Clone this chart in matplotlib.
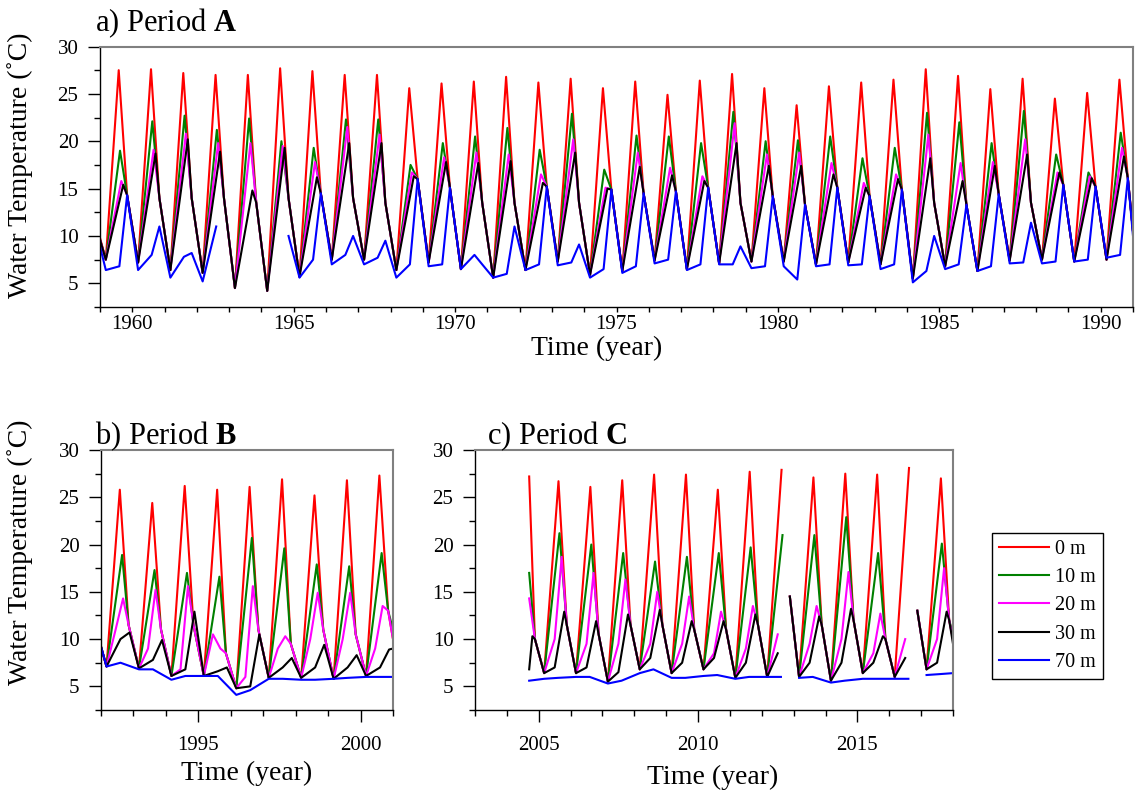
import numpy as np
import matplotlib
matplotlib.use("Agg")
import matplotlib.pyplot as plt
from matplotlib.ticker import MultipleLocator

plt.rcParams['font.family'] = ['Liberation Serif', 'DejaVu Serif']
plt.rcParams['mathtext.fontset'] = 'custom'
plt.rcParams['mathtext.rm'] = 'Liberation Serif'
plt.rcParams['mathtext.bf'] = 'Liberation Serif:bold'

nan = np.nan

# ---- period A (1959-1990), values read per year ----
years_a = list(range(1959, 1991))
trough_a = [7.5, 7.2, 6.4, 6.1, 4.5, 4.2, 5.7, 7.5, 7.5, 6.4, 7.2, 6.5, 5.6, 6.4, 7.3, 5.9,
            6.3, 7.4, 6.5, 7.1, 7.3, 7.3, 7.0, 7.2, 7.0, 5.5, 6.8, 6.3, 7.4, 7.5, 7.3, 7.5]
red_a = [27.5, 27.6, 27.2, 27.0, 27.0, 27.7, 27.4, 27.0, 27.0, 25.6, 26.1, 26.3, 26.8, 26.2, 26.6, 25.6,
         26.3, 24.9, 26.4, 27.1, 25.6, 23.8, 25.8, 26.2, 26.5, 27.6, 26.9, 25.5, 26.6, 24.5, 25.1, 26.5]
green_a = [19.0, 22.1, 22.7, 21.2, 22.4, 20.0, 19.3, 22.3, 22.3, 17.5, 19.8, 20.5, 21.4, 19.1, 22.9, 17.0,
           20.6, 20.5, 19.8, 23.1, 20.0, 20.1, 20.5, 18.2, 19.3, 23.0, 22.0, 19.8, 23.2, 18.6, 16.7, 20.9]
mag_a = [15.8, 19.1, 20.8, 19.8, 19.8, 19.5, 17.8, 21.5, 20.7, 16.7, 18.3, 18.8, 18.6, 16.5, 20.2, 15.1,
         18.8, 17.2, 16.3, 21.9, 18.6, 18.8, 17.7, 15.6, 16.5, 20.7, 17.7, 17.8, 20.2, 16.7, 16.3, 19.3]
black_a = [15.4, 18.7, 20.2, 18.9, 14.8, 19.3, 16.2, 19.8, 19.8, 16.3, 17.8, 17.7, 17.9, 15.6, 18.8, 15.0,
           17.3, 16.4, 15.8, 19.8, 17.4, 17.4, 16.5, 15.1, 16.0, 18.2, 15.8, 17.4, 18.6, 16.7, 16.1, 18.4]
fall_a = [14.3, 14.0, 14.0, 14.0, 13.5, 14.0, 14.5, 14.0, 13.5, 16.0, 15.1, 13.5, 13.5, 15.2, 13.5, 14.9,
          14.5, 14.7, 15.1, 13.5, 14.2, 13.3, 15.1, 14.2, 14.9, 13.5, 13.3, 14.4, 13.5, 15.4, 15.2, 16.1]
blue_trough_a = [6.4, 6.4, 5.6, 5.2, nan, nan, 5.6, 7.0, 7.0, 5.6, 6.8, 6.5, 5.6, 6.4, 6.9, 5.6,
                 6.1, 7.1, 6.4, 7.0, 6.6, 6.8, 6.8, 6.9, 6.5, 5.1, 6.5, 6.3, 7.1, 7.1, 7.3, 7.7]
blue_summer_a = [6.8, 8.0, 7.8, 11.0, nan, nan, 7.5, 8.0, 7.7, 7.0, 7.0, 8.0, 6.0, 7.0, 7.2, 6.5,
                 6.8, 7.5, 7.0, 7.0, 6.8, 5.4, 7.0, 7.0, 7.0, 6.3, 7.0, 6.8, 7.2, 7.3, 7.5, 8.0]
blue_fall_a = [14.3, 11.0, 8.2, 8.5, nan, 10.0, 14.5, 10.0, 9.5, 16.0, 15.1, 7.0, 11.0, 15.2, 9.1, 14.9,
               14.5, 14.7, 15.1, 8.9, 14.2, 13.3, 15.1, 14.2, 14.9, 10.0, 13.3, 14.4, 11.4, 15.4, 15.2, 16.1]
start_a = [9.8, 9.6, 9.6, 9.6, 8.9]    # 0, 10, 20, 30, 70 m at 1959.0
end_a = [10.5, 10.5, 10.5, 10.5, 10.0]  # at 1991.0
gaps_blue_a = [(1962.70, 1964.75)]

# ---- period B (1992-2000) ----
years_b = list(range(1992, 2001))
trough_b = [7.1, 6.9, 6.1, 6.1, 4.8, 5.9, 5.9, 5.8, 6.1]
red_b = [25.8, 24.4, 26.2, 25.8, 26.1, 26.9, 25.2, 26.8, 27.3]
green_b = [18.9, 17.3, 17.0, 16.6, 20.7, 19.6, 17.9, 17.7, 19.1]
mag_summer_b = [11.0, 9.0, 6.8, 10.5, 6.0, 9.0, 10.0, 10.0, 9.0]
mag_b = [14.3, 15.2, 15.6, 9.0, 15.6, 10.3, 14.9, 14.9, 13.5]
black_summer_b = [10.0, 7.8, 6.8, 6.6, 5.0, 7.0, 7.0, 7.0, 7.0]
black_b = [10.7, 9.9, 12.9, 7.0, 10.5, 8.0, 9.4, 8.3, 8.9]
fall_b = [11.5, 11.0, 11.5, 8.5, 11.0, 9.5, 11.0, 10.5, 13.0]
blue_trough_b = [7.1, 6.8, 5.7, 6.1, 4.1, 5.8, 5.7, 5.8, 6.0]
blue_summer_b = [7.5, 6.8, 6.1, 6.1, 4.6, 5.8, 5.7, 5.9, 6.0]
start_b = [9.2, 9.2, 9.2, 9.2, 9.2]
end_b = [10.0, 11.0, 10.0, 9.0, 6.0]

# ---- period C (2004-2017) ----
years_c = list(range(2004, 2018))
trough_c = [nan, 6.4, 6.4, 5.5, 6.8, 6.4, 6.8, 5.9, 6.0, 6.0, 5.6, 6.4, 6.0, 6.8]
red_c = [nan, 26.7, 26.1, 26.8, 27.4, 27.4, 25.8, 27.7, 27.9, 27.1, 27.5, 27.4, 28.1, 27.0]
green_c = [nan, 21.2, 20.0, 19.1, 18.2, 18.7, 19.1, 19.7, 21.0, 21.0, 22.9, 19.1, 18.6, 20.1]
mag_summer_c = [nan, 10.0, 9.5, 9.5, 9.5, 9.5, 8.5, 9.0, 10.5, 9.5, 10.0, 8.5, 10.0, 10.0]
mag_c = [nan, 18.7, 17.0, 16.3, 15.0, 14.5, 12.9, 13.5, 18.4, 13.5, 17.1, 12.7, 15.0, 17.5]
black_summer_c = [nan, 7.0, 7.0, 6.5, 8.0, 7.5, 8.0, 7.5, 8.5, 7.5, 7.5, 7.5, 8.0, 7.5]
black_c = [10.3, 12.9, 11.9, 12.6, 13.1, 11.9, 11.9, 12.6, 14.7, 12.4, 13.2, 10.3, nan, 12.9]
fall_c = [10.0, 11.5, 10.5, 11.5, 11.5, 11.0, 11.0, 11.5, 14.5, 11.5, 12.0, 10.0, 13.0, 12.0]
blue_trough_c = [nan, 5.8, 6.0, 5.3, 6.4, 5.9, 6.1, 5.8, 6.0, 5.9, 5.4, 5.8, 5.8, 6.2]
blue_summer_c = [nan, 5.9, 6.0, 5.6, 6.8, 5.9, 6.2, 6.0, 6.0, 6.0, 5.6, 5.8, 5.8, 6.3]
start_c = [27.2, 17.0, 14.3, 6.8, 5.6]   # at 2004.70
end_c = [10.0, 10.5, 10.0, 9.5, 6.4]
gaps_c = [(2012.70, 2012.86), (2016.64, 2016.87)]

depths = ["0 m", "10 m", "20 m", "30 m", "70 m"]
colors = ["#ff0000", "#008000", "#ff00ff", "#000000", "#0000ff"]


def series(years, phases, columns, start=None, end=None, gaps=()):
	t, v = [], []
	if start is not None:
		t.append(start[0]); v.append(start[1])
	for i, y in enumerate(years):
		for p, col in zip(phases, columns):
			if not np.isnan(col[i]):
				t.append(y + p); v.append(col[i])
	if end is not None:
		t.append(end[0]); v.append(end[1])
	t = np.array(t); v = np.array(v)
	for g0, g1 in gaps:
		keep = (t < g0) | (t > g1)
		t, v = t[keep], v[keep]
		k = np.searchsorted(t, g0)
		t = np.insert(t, k, g0); v = np.insert(v, k, np.nan)
	return t, v


def style_axes(ax, xlim, xtick_len, xpad):
	ax.set_xlim(*xlim)
	ax.set_ylim(2.5, 30)
	ax.xaxis.set_major_locator(MultipleLocator(5))
	ax.xaxis.set_minor_locator(MultipleLocator(1))
	ax.yaxis.set_major_locator(MultipleLocator(5))
	ax.yaxis.set_minor_locator(MultipleLocator(2.5))
	ax.tick_params(which='both', direction='out', top=False, right=False,
	               labelsize=15, width=1, color='black')
	ax.tick_params(axis='y', which='major', length=8.5, pad=7)
	ax.tick_params(axis='y', which='minor', length=4.3)
	ax.tick_params(axis='x', which='major', length=xtick_len[0], pad=xpad)
	ax.tick_params(axis='x', which='minor', length=xtick_len[1])
	for s in ['top', 'right']:
		ax.spines[s].set_color('#808080')
		ax.spines[s].set_linewidth(1.5)
	for s in ['left', 'bottom']:
		ax.spines[s].set_color('black')
		ax.spines[s].set_linewidth(1.0)


W, H = 1142, 798
fig = plt.figure(figsize=(W / 100, H / 100), dpi=100)
ax_a = fig.add_axes([100 / W, 1 - 307 / H, 1033 / W, 260.5 / H])
ax_b = fig.add_axes([101 / W, 1 - 710 / H, 292 / W, 260 / H])
ax_c = fig.add_axes([475 / W, 1 - 710 / H, 478 / W, 260 / H])

lw = 1.5

# period A
cols_a = [
	([0.18, 0.58, 0.84], [trough_a, red_a, fall_a], ()),
	([0.18, 0.62, 0.84], [trough_a, green_a, fall_a], ()),
	([0.18, 0.66, 0.84], [trough_a, mag_a, fall_a], ()),
	([0.18, 0.72, 0.84], [trough_a, black_a, fall_a], ()),
	([0.18, 0.60, 0.84], [blue_trough_a, blue_summer_a, blue_fall_a], gaps_blue_a),
]
for k, (ph, cols, gaps) in enumerate(cols_a):
	t, v = series(years_a, ph, cols, (1959.0, start_a[k]), (1991.0, end_a[k]), gaps)
	ax_a.plot(t, v, color=colors[k], lw=lw)

# period B
cols_b = [
	([0.17, 0.58, 0.85], [trough_b, red_b, fall_b]),
	([0.17, 0.65, 0.85], [trough_b, green_b, fall_b]),
	([0.17, 0.45, 0.68, 0.85], [trough_b, mag_summer_b, mag_b, fall_b]),
	([0.17, 0.60, 0.88], [trough_b, black_summer_b, black_b]),
	([0.17, 0.60], [blue_trough_b, blue_summer_b]),
]
for k, (ph, cols) in enumerate(cols_b):
	t, v = series(years_b, ph, cols, (1992.0, start_b[k]), (2001.0, end_b[k]))
	ax_b.plot(t, v, color=colors[k], lw=lw)

# period C
cols_c = [
	([0.17, 0.62, 0.88], [trough_c, red_c, fall_c]),
	([0.17, 0.65, 0.88], [trough_c, green_c, fall_c]),
	([0.17, 0.50, 0.72, 0.88], [trough_c, mag_summer_c, mag_c, fall_c]),
	([0.17, 0.50, 0.80, 0.88], [trough_c, black_summer_c, black_c, fall_c]),
	([0.17, 0.60], [blue_trough_c, blue_summer_c]),
]
lines = []
for k, (ph, cols) in enumerate(cols_c):
	t, v = series(years_c, ph, cols, (2004.70, start_c[k]), (2018.0, end_c[k]), gaps_c)
	ln, = ax_c.plot(t, v, color=colors[k], lw=lw)
	lines.append(ln)

style_axes(ax_a, (1959, 1991), (3.6, 3.6), 2)
style_axes(ax_b, (1992, 2001), (8.5, 4.3), 10)
style_axes(ax_c, (2003, 2018), (8.5, 4.3), 10)

fs_lab = 20
fs_title = 22
fig.text(95 / W, 1 - 31 / H, r"a) Period $\mathbf{A}$", fontsize=fs_title, va='baseline', ha='left')
fig.text(95 / W, 1 - 444 / H, r"b) Period $\mathbf{B}$", fontsize=fs_title, va='baseline', ha='left')
fig.text(487 / W, 1 - 444 / H, r"c) Period $\mathbf{C}$", fontsize=fs_title, va='baseline', ha='left')

fig.text(20 / W, 1 - 165 / H, "Water Temperature (˚C)", rotation=90, fontsize=fs_lab, ha='center', va='center')
fig.text(20 / W, 1 - 552 / H, "Water Temperature (˚C)", rotation=90, fontsize=fs_lab, ha='center', va='center')
fig.text(597 / W, 1 - 348 / H, "Time (year)", fontsize=fs_lab, ha='center', va='center')
fig.text(247 / W, 1 - 773 / H, "Time (year)", fontsize=fs_lab, ha='center', va='center')
fig.text(713 / W, 1 - 777 / H, "Time (year)", fontsize=fs_lab, ha='center', va='center')

leg = fig.legend(lines, depths, loc='upper left', bbox_to_anchor=(992 / W, 1 - 533 / H),
                 fontsize=14.5, frameon=True, fancybox=False, edgecolor='black', framealpha=1,
                 borderaxespad=0, handlelength=2.5, handletextpad=0.3, labelspacing=0.45,
                 borderpad=0.35)
leg.get_frame().set_linewidth(1.0)

fig.savefig("out.png", dpi=100)
